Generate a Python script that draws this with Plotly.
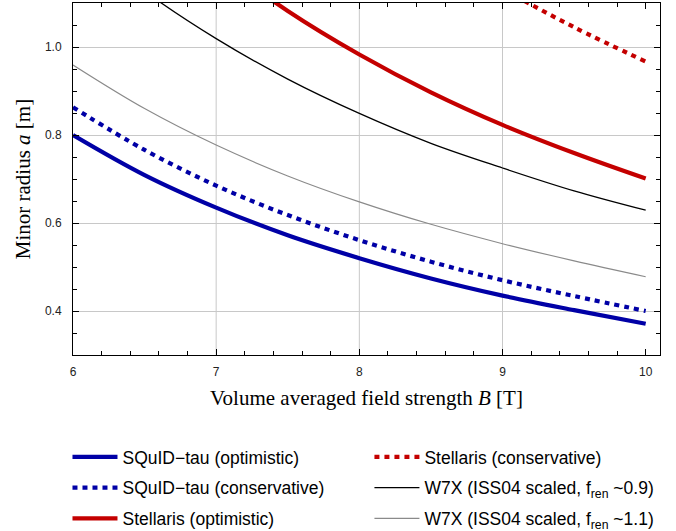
import plotly.graph_objects as go

# Field strength B [T]
B = [6.0, 6.5, 7.0, 7.5, 8.0, 8.5, 9.0, 9.5, 10.0]

# Minor radius a [m]
squid_opt = [0.800, 0.709, 0.635, 0.572, 0.520, 0.474, 0.435, 0.402, 0.371]
squid_cons = [0.863, 0.766, 0.685, 0.618, 0.561, 0.512, 0.470, 0.434, 0.400]
stell_opt = [1.510, 1.339, 1.199, 1.082, 0.983, 0.897, 0.823, 0.759, 0.701]
stell_cons = [2.080, 1.840, 1.651, 1.490, 1.352, 1.234, 1.133, 1.045, 0.967]
w7x_09 = [1.257, 1.127, 1.019, 0.927, 0.849, 0.781, 0.725, 0.673, 0.629]
w7x_11 = [0.959, 0.860, 0.777, 0.707, 0.648, 0.597, 0.553, 0.514, 0.478]

names = [
    "SQuID\u2212tau (optimistic)",
    "SQuID\u2212tau (conservative)",
    "Stellaris (optimistic)",
    "Stellaris (conservative)",
    "W7X (ISS04 scaled, f<sub>ren</sub> ~0.9)",
    "W7X (ISS04 scaled, f<sub>ren</sub> ~1.1)",
]

x_grid = [7, 8, 9]

BLUE = "#0000a6"
RED = "#c40000"
DOT = "5px,5px"

series = [
    (squid_opt, names[0], BLUE, 4.2, "solid", "legend"),
    (squid_cons, names[1], BLUE, 4.2, DOT, "legend"),
    (stell_opt, names[2], RED, 4.2, "solid", "legend"),
    (stell_cons, names[3], RED, 4.2, DOT, "legend2"),
    (w7x_09, names[4], "#000000", 1.3, "solid", "legend2"),
    (w7x_11, names[5], "#8a8a8a", 1.1, "solid", "legend2"),
]

fig = go.Figure()
for i, (vals, nm, col, w, dash, lg) in enumerate(series):
    fig.add_trace(go.Scatter(
        x=B, y=vals, name=nm, mode="lines",
        line=dict(color=col, width=w, dash=dash, shape="spline", smoothing=1.0),
        legend=lg, legendgroup=f"g{i}",
    ))

for gx in x_grid:
    fig.add_shape(type="line", xref="x", yref="paper", x0=gx, x1=gx, y0=0, y1=1,
                  line=dict(color="#c8c8c8", width=1), layer="below")

legend_common = dict(
    orientation="v", traceorder="grouped", tracegroupgap=5,
    font=dict(family="Liberation Sans, Arial, sans-serif", size=17.5, color="#000000"),
    bgcolor="rgba(0,0,0,0)", itemwidth=45, xanchor="left", yanchor="top",
    xref="paper", yref="container",
)

fig.update_layout(
    width=676, height=531,
    margin=dict(l=73, r=16, t=3, b=176),
    paper_bgcolor="white", plot_bgcolor="white",
    showlegend=True,
    legend=dict(x=-0.0094, y=0.1733, **legend_common),
    legend2=dict(x=0.505, y=0.1733, **legend_common),
    xaxis=dict(
        range=[6, 10.1], tickmode="linear", tick0=6, dtick=1,
        showgrid=False, zeroline=False, automargin=False,
        showline=True, linecolor="#000000", linewidth=1, mirror="allticks",
        ticks="inside", ticklen=6, tickcolor="#000000", tickwidth=1,
        minor=dict(dtick=0.2, tick0=6, ticks="inside", ticklen=4, tickcolor="#000000", showgrid=False),
        tickfont=dict(family="Liberation Sans, Arial, sans-serif", size=12, color="#222222"),
        ticklabelstandoff=6,
        title=dict(text="Volume averaged field strength <i>B</i> [T]",
                   font=dict(family="Liberation Serif, Times New Roman, serif", size=21, color="#000000"),
                   standoff=11),
    ),
    yaxis=dict(
        range=[0.3, 1.1], tickmode="linear", tick0=0.4, dtick=0.2, tickformat=".1f",
        showgrid=True, gridcolor="#c8c8c8", gridwidth=1, zeroline=False, automargin=False,
        showline=True, linecolor="#000000", linewidth=1, mirror="allticks",
        ticks="inside", ticklen=6, tickcolor="#000000", tickwidth=1,
        minor=dict(dtick=0.05, tick0=0.3, ticks="inside", ticklen=4, tickcolor="#000000", showgrid=False),
        tickfont=dict(family="Liberation Sans, Arial, sans-serif", size=12, color="#222222"),
        ticklabelstandoff=8,
        title=dict(text="Minor radius <i>a</i> [m]",
                   font=dict(family="Liberation Serif, Times New Roman, serif", size=21, color="#000000"),
                   standoff=8),
    ),
)

fig.write_html("out.html", config={"displayModeBar": False},
               post_script="document.body.style.margin='0px';")
